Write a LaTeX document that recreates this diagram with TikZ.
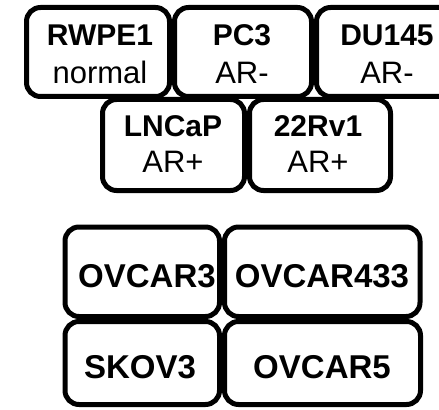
\documentclass[tikz,border=0pt]{standalone}
\usepackage{fontspec}
\setmainfont{Liberation Sans}
\begin{document}
\begin{tikzpicture}[x=0.75pt,y=-0.75pt,
  cellbox/.style={draw=black, line width=3.75pt, rounded corners=10.5pt, inner sep=0pt},
  toptxt/.style={anchor=base, inner sep=0pt, font=\fontsize{22.5pt}{27pt}\selectfont\bfseries},
  subtxt/.style={anchor=base, inner sep=0pt, font=\fontsize{23.25pt}{28pt}\selectfont},
  bigtxt/.style={anchor=base, inner sep=0pt, font=\fontsize{24.75pt}{30pt}\selectfont\bfseries}]
\useasboundingbox (0,0) rectangle (439,410);
\clip (0,0) rectangle (439,410);
% row 1
\node[cellbox, minimum width={143*0.75pt}, minimum height={89*0.75pt}] (rwpe) at (98,52) {};
\node[cellbox, minimum width={137*0.75pt}, minimum height={89*0.75pt}] (pc3) at (243,52) {};
\node[cellbox, minimum width={141*0.75pt}, minimum height={89*0.75pt}] (du) at (387,52) {};
% row 2
\node[cellbox, minimum width={142*0.75pt}, minimum height={91*0.75pt}] (lncap) at (173.5,145) {};
\node[cellbox, minimum width={141*0.75pt}, minimum height={91*0.75pt}] (rv) at (320,145) {};
% row 3/4
\node[cellbox, minimum width={154.5*0.75pt}, minimum height={89.5*0.75pt}] (ov3) at (142.25,271.75) {};
\node[cellbox, minimum width={195.5*0.75pt}, minimum height={89.5*0.75pt}] (ov433) at (322.25,271.75) {};
\node[cellbox, minimum width={154.5*0.75pt}, minimum height={83*0.75pt}] (skov) at (142.25,363) {};
\node[cellbox, minimum width={196*0.75pt}, minimum height={83*0.75pt}] (ov5) at (322.5,363) {};
% texts
\node[toptxt] (rwpeA) at (100,46) {RWPE1};
\node[subtxt] (rwpeB) at (100,84) {normal};
\node[toptxt] (pc3A) at (242,46) {PC3};
\node[subtxt] (pc3B) at (242,84) {AR-};
\node[toptxt] (duA) at (387,46) {DU145};
\node[subtxt] (duB) at (387,84) {AR-};
\node[toptxt] (lncapA) at (173,137) {LNCaP};
\node[subtxt] (lncapB) at (173,172) {AR+};
\node[toptxt] (rvA) at (318,137) {22Rv1};
\node[subtxt] (rvB) at (318,172) {AR+};
\node[bigtxt] (ov3t) at (147,287) {OVCAR3};
\node[bigtxt] (ov433t) at (322,287) {OVCAR433};
\node[bigtxt] (skovt) at (140,378) {SKOV3};
\node[bigtxt] (ov5t) at (322,378) {OVCAR5};
\end{tikzpicture}
\end{document}
